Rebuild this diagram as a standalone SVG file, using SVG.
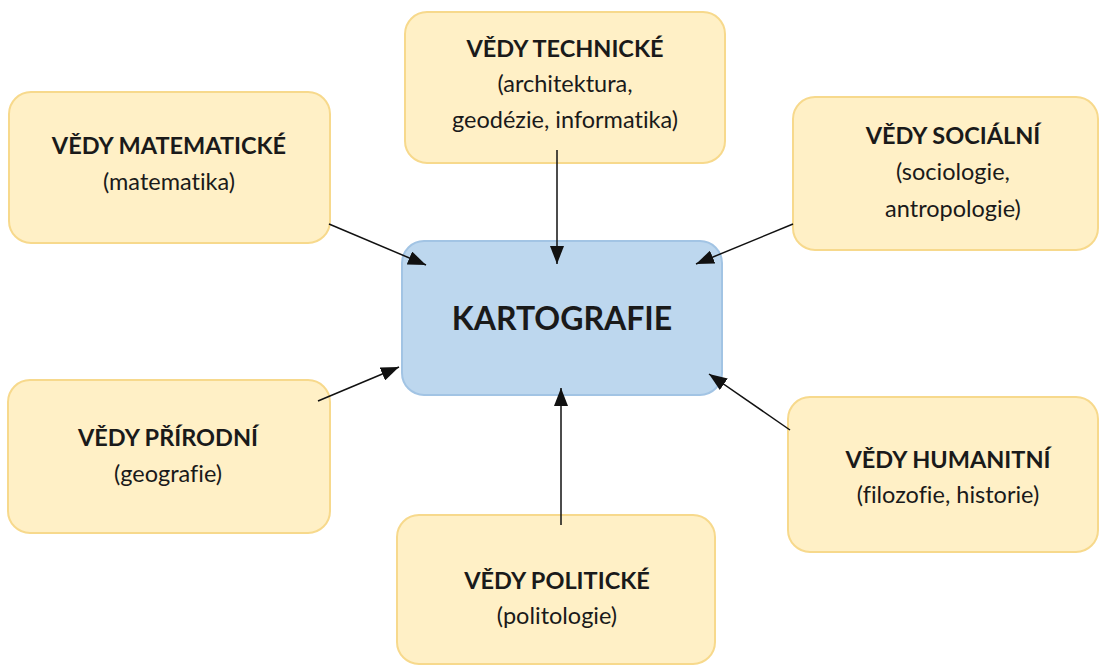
<svg xmlns="http://www.w3.org/2000/svg" width="1100" height="666" viewBox="0 0 1100 666">
<style>
.box{fill:#FFF0C6;stroke:#F7D98C;stroke-width:2}
.center{fill:#BDD7EE;stroke:#A2C4E4;stroke-width:2}
text{font-family:Lato,"Open Sans","Liberation Sans",sans-serif;fill:#1a1a1a;text-anchor:middle;font-variant-ligatures:none}
.t{font-weight:bold;font-size:23.5px}
.s{font-size:23.5px}
.big{font-weight:bold;font-size:32px}
.c{stroke:#111;stroke-width:1.5;fill:none;marker-end:url(#ah)}
</style>
<defs>
<marker id="ah" viewBox="0 0 18 14" refX="18" refY="7" markerWidth="18" markerHeight="14" markerUnits="userSpaceOnUse" orient="auto">
<path d="M0,0 L18,7 L0,14 z" fill="#111"/>
</marker>
</defs>
<rect width="1100" height="666" fill="#fff"/>
<g id="kartografie">
<rect class="center" x="402" y="241" width="320" height="154" rx="22"/>
<text class="big" x="562" y="330">KARTOGRAFIE</text>
</g>
<g id="matematicke">
<rect class="box" x="9" y="92" width="321" height="151" rx="22"/>
<text class="t" x="169" y="154">VĚDY MATEMATICKÉ</text>
<text class="s" x="169" y="190">(matematika)</text>
</g>
<g id="technicke">
<rect class="box" x="405" y="12" width="320" height="151" rx="22"/>
<text class="t" x="565" y="57">VĚDY TECHNICKÉ</text>
<text class="s" x="565" y="92">(architektura,</text>
<text class="s" x="565" y="128">geodézie, informatika)</text>
</g>
<g id="socialni">
<rect class="box" x="793" y="97" width="305" height="153" rx="22"/>
<text class="t" x="953" y="144">VĚDY SOCIÁLNÍ</text>
<text class="s" x="953" y="180">(sociologie,</text>
<text class="s" x="953" y="217">antropologie)</text>
</g>
<g id="prirodni">
<rect class="box" x="8" y="380" width="322" height="153" rx="22"/>
<text class="t" x="168" y="446">VĚDY PŘÍRODNÍ</text>
<text class="s" x="168" y="482">(geografie)</text>
</g>
<g id="humanitni">
<rect class="box" x="788" y="397" width="310" height="155" rx="22"/>
<text class="t" x="948" y="468">VĚDY HUMANITNÍ</text>
<text class="s" x="948" y="503">(filozofie, historie)</text>
</g>
<g id="politicke">
<rect class="box" x="397" y="515" width="318" height="149" rx="22"/>
<text class="t" x="557" y="589">VĚDY POLITICKÉ</text>
<text class="s" x="557" y="624">(politologie)</text>
</g>
<g id="connectors">
<line class="c" x1="329" y1="224" x2="426" y2="265"/>
<line class="c" x1="557" y1="150" x2="557" y2="264"/>
<line class="c" x1="793" y1="224" x2="696" y2="264"/>
<line class="c" x1="318" y1="401" x2="399" y2="367"/>
<line class="c" x1="561" y1="525" x2="561" y2="388"/>
<line class="c" x1="790" y1="430" x2="709" y2="374"/>
</g>
</svg>
